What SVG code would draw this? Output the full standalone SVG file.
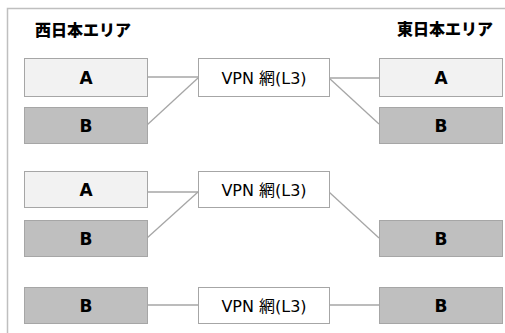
<svg xmlns="http://www.w3.org/2000/svg" width="505" height="333" viewBox="0 0 505 333">
<style>
.a{fill:#f2f2f2;stroke:#a6a6a6;stroke-width:1}
.b{fill:#bfbfbf;stroke:#a6a6a6;stroke-width:1}
.v{fill:#ffffff;stroke:#a6a6a6;stroke-width:1}
.t{font-family:"DejaVu Sans","Noto Sans CJK JP",sans-serif;font-weight:bold;font-size:17px;fill:#000;text-anchor:middle}
.vt{font-family:"DejaVu Sans","Noto Sans CJK JP",sans-serif;font-size:16px;fill:#000;text-anchor:middle}
.h{font-family:"Noto Sans CJK JP",sans-serif;font-weight:900;font-size:16px;fill:#000}
.c line{stroke:#a6a6a6;stroke-width:1.3}
</style>
<rect width="505" height="333" fill="#ffffff"/>
<rect x="7.5" y="8.5" width="520" height="340" fill="none" stroke="#bfbfbf" stroke-width="1.5"/>
<text class="h" x="35" y="36">西日本エリア</text>
<text class="h" x="493" y="35" text-anchor="end">東日本エリア</text>
<g class="c">
<line x1="147" y1="77" x2="198" y2="77"/>
<line x1="147" y1="125" x2="198" y2="78"/>
<line x1="329" y1="78" x2="379" y2="78"/>
<line x1="329" y1="78" x2="379" y2="124"/>
<line x1="147" y1="192" x2="198" y2="192"/>
<line x1="147" y1="238" x2="198" y2="192"/>
<line x1="329" y1="192" x2="379" y2="238"/>
<line x1="147" y1="305" x2="198" y2="305"/>
<line x1="329" y1="305" x2="379" y2="305"/>
</g>
<g id="wA1"><rect class="a" x="24.5" y="58.5" width="123" height="38"/><text class="t" x="86" y="83.5">A</text></g>
<g id="wB1"><rect class="b" x="24.5" y="107.5" width="123" height="36"/><text class="t" x="86" y="131.5">B</text></g>
<g id="vpn1"><rect class="v" x="198.5" y="58.5" width="131" height="38"/><text class="vt" x="264" y="83.5">VPN 網(L3)</text></g>
<g id="eA1"><rect class="a" x="379.5" y="58.5" width="123" height="38"/><text class="t" x="441" y="83.5">A</text></g>
<g id="eB1"><rect class="b" x="379.5" y="107.5" width="123" height="36"/><text class="t" x="441" y="131.5">B</text></g>
<g id="wA2"><rect class="a" x="24.5" y="171.5" width="123" height="36"/><text class="t" x="86" y="195.5">A</text></g>
<g id="wB2"><rect class="b" x="24.5" y="220.5" width="123" height="36"/><text class="t" x="86" y="244.5">B</text></g>
<g id="vpn2"><rect class="v" x="198.5" y="171.5" width="131" height="36"/><text class="vt" x="264" y="195.5">VPN 網(L3)</text></g>
<g id="eB2"><rect class="b" x="379.5" y="220.5" width="123" height="36"/><text class="t" x="441" y="244.5">B</text></g>
<g id="wB3"><rect class="b" x="24.5" y="287.5" width="123" height="36"/><text class="t" x="86" y="311.5">B</text></g>
<g id="vpn3"><rect class="v" x="198.5" y="287.5" width="131" height="36"/><text class="vt" x="264" y="311.5">VPN 網(L3)</text></g>
<g id="eB3"><rect class="b" x="379.5" y="287.5" width="123" height="36"/><text class="t" x="441" y="311.5">B</text></g>
</svg>
